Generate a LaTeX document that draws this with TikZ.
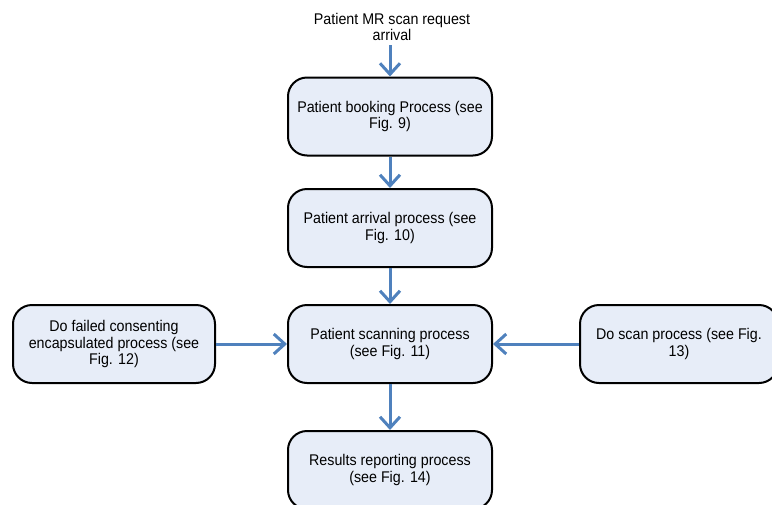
\documentclass[tikz,border=0pt]{standalone}
\usepackage{fontspec}
\setmainfont{Liberation Sans}[FakeStretch=0.92]
\usetikzlibrary{arrows.meta}
\definecolor{arrowblue}{RGB}{79,129,189}
\definecolor{boxfill}{RGB}{231,237,248}
\begin{document}
\begin{tikzpicture}[x=1pt,y=-1pt,
  procbox/.style={draw=black,line width=2pt,fill=boxfill,rounded corners=19pt,
    minimum width=204pt,minimum height=78pt,inner sep=0pt,align=center,
    font=\fontsize{15.5}{16.7}\selectfont},
  flow/.style={draw=arrowblue,line width=3pt,-{Straight Barb[length=11pt,width=20pt]}},
  lbl/.style={align=center,inner sep=0pt,font=\fontsize{15.5}{16.7}\selectfont}]
\useasboundingbox (0,0) rectangle (772,504);
\node[lbl] (req) at (392,27) {Patient MR scan request\\arrival};
\coordinate (reqend) at (390,45);
\node[procbox] (book) at (390,116.5) {Patient booking Process (see\\Fig. 9)};
\node[procbox] (arr) at (390,228) {Patient arrival process (see\\Fig. 10)};
\node[procbox] (scan) at (390,344) {Patient scanning process\\(see Fig. 11)};
\node[procbox,minimum width=202pt] (fail) at (114,344) {Do failed consenting\\encapsulated process (see\\Fig. 12)};
\node[procbox,minimum width=198pt] (doscan) at (679,344) {Do scan process (see Fig.\\13)};
\node[procbox] (res) at (390,470) {Results reporting process\\(see Fig. 14)};
\draw[flow] (reqend) -- (book.north);
\draw[flow] (book.south) -- (arr.north);
\draw[flow] (arr.south) -- (scan.north);
\draw[flow] (fail.east) -- (scan.west);
\draw[flow] (doscan.west) -- (scan.east);
\draw[flow] (scan.south) -- (res.north);
\end{tikzpicture}
\end{document}
